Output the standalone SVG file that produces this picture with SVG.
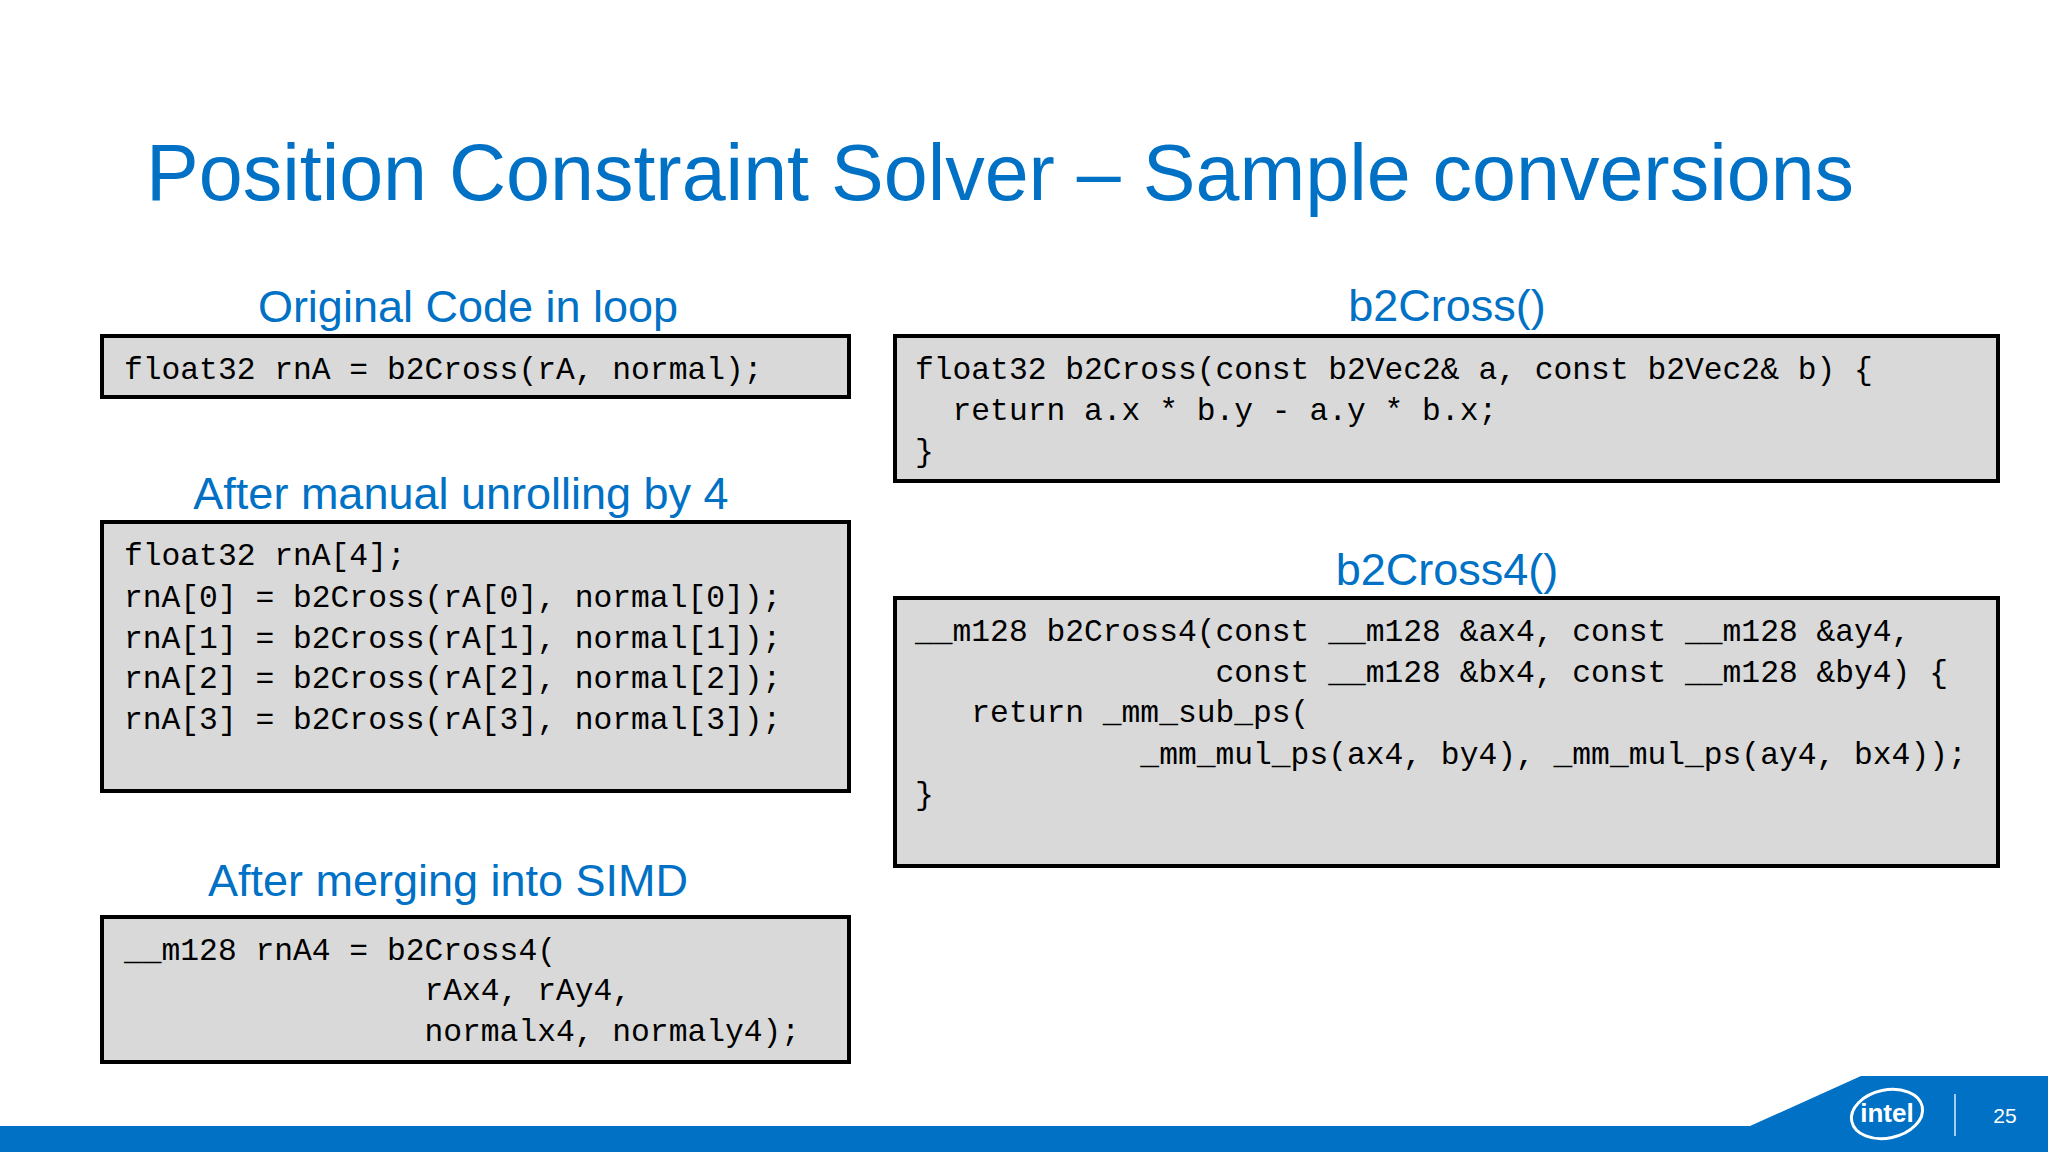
<svg xmlns="http://www.w3.org/2000/svg" width="2048" height="1152" viewBox="0 0 2048 1152">
<style>
.h{font-family:"Liberation Sans",Arial,sans-serif;fill:#0071c5;text-anchor:middle;font-size:45px}
.box{fill:#d9d9d9;stroke:#000;stroke-width:4}
.c{font-family:"Liberation Mono","DejaVu Sans Mono",monospace;font-size:31.3px;fill:#000;white-space:pre}
</style>
<rect width="2048" height="1152" fill="#fff"/>
<text x="146" y="200" font-family="Liberation Sans,Arial,sans-serif" font-size="79" fill="#0071c5">Position Constraint Solver – Sample conversions</text>
<g id="n1"><text class="h" x="468" y="322">Original Code in loop</text>
<rect class="box" x="102" y="336" width="747" height="61"/>
<text class="c" x="124" y="379">float32 rnA = b2Cross(rA, normal);</text></g>
<g id="n2"><text class="h" x="461" y="509">After manual unrolling by 4</text>
<rect class="box" x="102" y="522" width="747" height="269"/>
<text class="c" x="124" y="565">float32 rnA[4];</text>
<text class="c" x="124" y="607">rnA[0] = b2Cross(rA[0], normal[0]);</text>
<text class="c" x="124" y="648">rnA[1] = b2Cross(rA[1], normal[1]);</text>
<text class="c" x="124" y="688">rnA[2] = b2Cross(rA[2], normal[2]);</text>
<text class="c" x="124" y="729">rnA[3] = b2Cross(rA[3], normal[3]);</text></g>
<g id="n3"><text class="h" x="448" y="896">After merging into SIMD</text>
<rect class="box" x="102" y="917" width="747" height="145"/>
<text class="c" x="124" y="960">__m128 rnA4 = b2Cross4(</text>
<text class="c" x="124" y="1000" xml:space="preserve">                rAx4, rAy4,</text>
<text class="c" x="124" y="1041" xml:space="preserve">                normalx4, normaly4);</text></g>
<g id="n4"><text class="h" x="1447" y="321">b2Cross()</text>
<rect class="box" x="895" y="336" width="1103" height="145"/>
<text class="c" x="915" y="379">float32 b2Cross(const b2Vec2&amp; a, const b2Vec2&amp; b) {</text>
<text class="c" x="915" y="420" xml:space="preserve">  return a.x * b.y - a.y * b.x;</text>
<text class="c" x="915" y="461">}</text></g>
<g id="n5"><text class="h" x="1447" y="585">b2Cross4()</text>
<rect class="box" x="895" y="598" width="1103" height="268"/>
<text class="c" x="915" y="641">__m128 b2Cross4(const __m128 &amp;ax4, const __m128 &amp;ay4,</text>
<text class="c" x="915" y="682" xml:space="preserve">                const __m128 &amp;bx4, const __m128 &amp;by4) {</text>
<text class="c" x="915" y="722" xml:space="preserve">   return _mm_sub_ps(</text>
<text class="c" x="915" y="764" xml:space="preserve">            _mm_mul_ps(ax4, by4), _mm_mul_ps(ay4, bx4));</text>
<text class="c" x="915" y="804">}</text></g>
<g id="connectors"></g>
<g id="footer">
<path d="M0 1126 H1750 L1861 1076 H2048 V1152 H0 Z" fill="#0071c5"/>
<ellipse cx="1887" cy="1114" rx="36" ry="24" fill="none" stroke="#fff" stroke-width="3" transform="rotate(-12 1887 1114)"/>
<text x="1887" y="1122" text-anchor="middle" font-family="Liberation Sans,Arial,sans-serif" font-weight="bold" font-size="26" fill="#fff">intel</text>
<line x1="1955" y1="1094" x2="1955" y2="1136" stroke="#a8c8ec" stroke-width="2"/>
<text x="2005" y="1123" text-anchor="middle" font-family="Liberation Sans,Arial,sans-serif" font-size="21" fill="#fff">25</text>
</g>
</svg>
